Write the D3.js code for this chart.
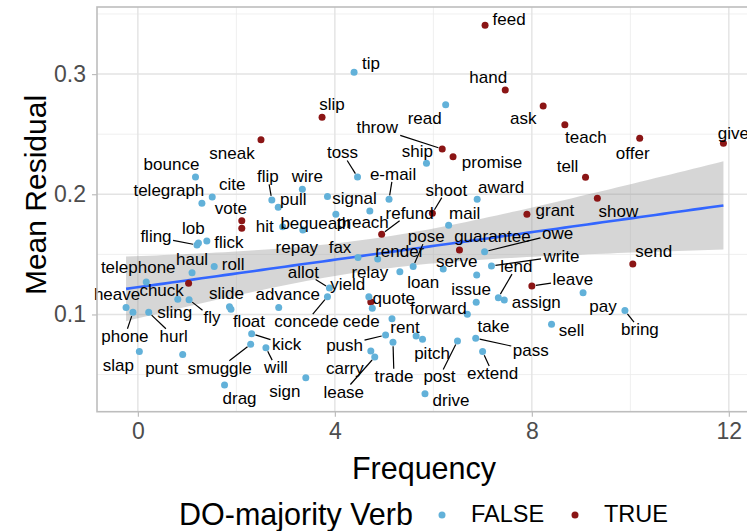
<!DOCTYPE html>
<html>
<head>
<meta charset="utf-8">
<script src="https://cdnjs.cloudflare.com/ajax/libs/d3/7.8.5/d3.min.js"></script>
<style>
  body { margin: 0; background: #fff; }
  text { font-family: "Liberation Sans", Arial, sans-serif; }
</style>
</head>
<body>
<div id="chart"></div>
<script>
const width = 747;
const height = 531;

// verbs, their frequency, mean residual and whether DO is the majority
const verbs = ["feed","hand","ask","slip","teach","offer","sneak","give","throw","promise",
  "tell","show","shoot","grant","vote","deliver","refund","guarantee","send","chuck","leave","quote",
  "tip","read","ship","toss","bounce","wire","cite","signal","e-mail","award",
  "flip","telegraph","pull","preach","bequeath","mail","hit","repay","flick","fling",
  "lob","owe","fax","render","write","pose","roll","loan","relay","haul",
  "serve","telephone","allot","pay","yield","concede","lend","sling","fly","assign",
  "issue","slide","float","heave","advance","cede","phone","hurl","forward","bring",
  "rent","sell","kick","push","pitch","take","pass","post","trade","smuggle",
  "will","carry","slap","extend","punt","lease","sign","drag","drive"];
const frequency = [7.05,7.46,8.23,3.74,8.67,10.19,2.50,11.89,6.18,6.40,
  9.09,9.33,5.98,7.90,2.11,2.11,4.95,6.53,10.05,1.03,8.00,4.73,
  4.39,6.25,5.86,4.46,1.17,3.34,1.51,3.85,5.10,6.89,
  2.72,1.30,2.85,4.71,4.02,6.31,2.94,3.35,1.40,1.20,
  1.23,7.04,4.47,4.87,7.18,5.59,1.55,6.20,5.32,1.10,
  6.88,0.17,3.89,9.04,4.69,3.85,7.32,0.81,1.04,7.44,
  6.87,1.86,1.89,-0.24,2.86,4.76,-0.10,0.22,6.69,9.89,
  5.16,8.40,2.31,5.03,5.65,5.78,6.86,6.49,5.18,2.29,
  2.60,4.73,0.03,7.00,0.91,4.81,3.41,1.76,5.83];
const meanResidual = [0.3406,0.2868,0.2735,0.2641,0.2579,0.2467,0.2454,0.2424,0.2377,0.2313,
  0.2141,0.1967,0.1843,0.1834,0.1780,0.1717,0.1668,0.1537,0.1420,0.1260,0.1237,0.1104,
  0.3015,0.2745,0.2258,0.2144,0.2144,0.2042,0.1978,0.1982,0.1958,0.1958,
  0.1953,0.1925,0.1892,0.1861,0.1834,0.1742,0.1730,0.1703,0.1611,0.1578,
  0.1595,0.1522,0.1473,0.1462,0.1403,0.1398,0.1398,0.1379,0.1356,0.1348,
  0.1329,0.1270,0.1220,0.1181,0.1148,0.1148,0.1140,0.1126,0.1123,0.1121,
  0.1102,0.1065,0.1043,0.1057,0.1057,0.1052,0.1018,0.1018,0.1002,0.1032,
  0.0965,0.0918,0.0840,0.0829,0.0821,0.0794,0.0802,0.0780,0.0769,0.0752,
  0.0724,0.0696,0.0691,0.0691,0.0666,0.0646,0.0473,0.0413,0.0341];
const doMajority = verbs.map((v, i) => i < 22);

const xTicks = [0, 4, 8, 12];
const yTicks = [0.1, 0.2, 0.3];
const legendLevels = ["FALSE", "TRUE"];

// where ggrepel ended up putting each label (pixel offset from its point, and whether a segment is drawn)
const labelNudge = {
  feed:[24,-6], hand:[-17,-12], ask:[-20,13], slip:[10,-13], teach:[21,13], offer:[-7,15],
  sneak:[-29,14], give:[10,-10], throw:[-65,-21,1], promise:[39,6], tell:[-18,-11], show:[21,13],
  shoot:[14,-23,1], grant:[28,-4], vote:[-11,-12], refund:[28,-21,1], guarantee:[33,-13],
  send:[21,-12], chuck:[-27,7], leave:[41,-6,1], quote:[23,-3],
  tip:[17,-9], read:[-21,14], ship:[-9,-12], toss:[-15,-24,1], bounce:[-24,-12], wire:[5,-13],
  cite:[20,-12], signal:[27,2], "e-mail":[4,-25,1], award:[24,-12], flip:[-4,-23,1],
  telegraph:[-33,-13], pull:[15,-8], preach:[-7,12], bequeath:[-20,9], mail:[16,-12], hit:[-18,0],
  repay:[-6,18], flick:[22,1], fling:[-41,-8,1], lob:[-5,-14], owe:[73,-18,1], fax:[-18,-10],
  render:[22,-7], write:[70,-10,1], pose:[13,-30,1], roll:[19,-2], loan:[-20,14], relay:[-30,1],
  haul:[0,-13], serve:[-20,-13], telephone:[-8,-15], allot:[-26,-16,1], pay:[20,14], yield:[-21,-12],
  concede:[-21,25,1], lend:[18,-31,1], sling:[-3,13], fly:[23,18,1], assign:[32,3], issue:[-5,-13],
  slide:[-3,-13], float:[18,12], heave:[-9,-13], advance:[9,-13], cede:[-11,13], phone:[-8,24,1],
  hurl:[25,24,1], forward:[-29,-6], bring:[15,19,1], rent:[13,9], sell:[20,6], kick:[35,11,1],
  push:[-41,10,1], pitch:[16,18], take:[71,-13], pass:[55,12,1], post:[-18,36,1], trade:[1,34,1],
  smuggle:[-31,24,1], will:[10,20,1], carry:[-26,17], slap:[-21,14], extend:[10,22,1], punt:[-21,14],
  lease:[-31,35,1], sign:[-21,14], drag:[15,13], drive:[26,7]
};

const colorFalse = "#62B1D9";
const colorTrue = "#8B1515";

const data = verbs.map((v, i) => ({verb: v, x: frequency[i], y: meanResidual[i], dom: doMajority[i]}));

const panel = {left: 97, top: 7, right: 751, bottom: 411.7};
const x = d3.scaleLinear().domain([-0.83, 12.45]).range([panel.left, panel.right]);
const y = d3.scaleLinear().domain([0.0191, 0.3558]).range([panel.bottom, panel.top]);

const svg = d3.select("#chart").append("svg")
  .attr("width", width).attr("height", height)
  .style("display", "block");

svg.append("defs").append("clipPath").attr("id", "clip")
  .append("rect").attr("x", panel.left).attr("y", panel.top)
  .attr("width", panel.right - panel.left).attr("height", panel.bottom - panel.top);

// grid
const grid = svg.append("g").attr("clip-path", "url(#clip)");
const xMinor = [2, 6, 10];
const yMinor = [0.05, 0.15, 0.25, 0.35];
grid.selectAll(".xminor").data(xMinor).join("line")
  .attr("x1", d => x(d)).attr("x2", d => x(d)).attr("y1", panel.top).attr("y2", panel.bottom)
  .attr("stroke", "#EBEBEB").attr("stroke-width", 0.8);
grid.selectAll(".yminor").data(yMinor).join("line")
  .attr("y1", d => y(d)).attr("y2", d => y(d)).attr("x1", panel.left).attr("x2", panel.right)
  .attr("stroke", "#EBEBEB").attr("stroke-width", 0.8);
grid.selectAll(".xmajor").data(xTicks).join("line")
  .attr("x1", d => x(d)).attr("x2", d => x(d)).attr("y1", panel.top).attr("y2", panel.bottom)
  .attr("stroke", "#E3E3E3").attr("stroke-width", 1.4);
grid.selectAll(".ymajor").data(yTicks).join("line")
  .attr("y1", d => y(d)).attr("y2", d => y(d)).attr("x1", panel.left).attr("x2", panel.right)
  .attr("stroke", "#E3E3E3").attr("stroke-width", 1.4);

// linear fit with 95% band
const n = data.length;
const xbar = d3.mean(data, d => d.x);
const ybar = d3.mean(data, d => d.y);
const sxx = d3.sum(data, d => (d.x - xbar) ** 2);
const sxy = d3.sum(data, d => (d.x - xbar) * (d.y - ybar));
const slope = sxy / sxx;
const intercept = ybar - slope * xbar;
const sse = d3.sum(data, d => (d.y - intercept - slope * d.x) ** 2);
const s = Math.sqrt(sse / (n - 2));
const tCrit = 1.986;
const [xmin, xmax] = d3.extent(data, d => d.x);
const fit = d3.range(80).map(i => {
  const xv = xmin + (xmax - xmin) * i / 79;
  const yv = intercept + slope * xv;
  const se = s * Math.sqrt(1 / n + (xv - xbar) ** 2 / sxx);
  return {x: xv, y: yv, lo: yv - tCrit * se, hi: yv + tCrit * se};
});

const plot = svg.append("g").attr("clip-path", "url(#clip)");
plot.append("path").datum(fit)
  .attr("d", d3.area().x(d => x(d.x)).y0(d => y(d.lo)).y1(d => y(d.hi)))
  .attr("fill", "#999").attr("fill-opacity", 0.4);
plot.append("path").datum(fit)
  .attr("d", d3.line().x(d => x(d.x)).y(d => y(d.y)))
  .attr("fill", "none").attr("stroke", "#3366FF").attr("stroke-width", 2.6);

// points
plot.selectAll("circle").data(data).join("circle")
  .attr("cx", d => x(d.x)).attr("cy", d => y(d.y)).attr("r", 3.5)
  .attr("fill", d => d.dom ? colorTrue : colorFalse);

// labels
const labelled = data.filter(d => labelNudge[d.verb]);
const segG = svg.append("g");
const labG = svg.append("g");
labelled.forEach(d => {
  const [dx, dy, seg] = labelNudge[d.verb];
  const px = x(d.x), py = y(d.y);
  const t = labG.append("text")
    .attr("x", px + dx).attr("y", py + dy)
    .attr("text-anchor", "middle").attr("dominant-baseline", "central")
    .attr("font-size", 17).attr("fill", "#000")
    .text(d.verb);
  if (seg) {
    const b = t.node().getBBox();
    const pad = 1.5;
    const bx0 = b.x - pad, bx1 = b.x + b.width + pad, by0 = b.y + 2, by1 = b.y + b.height - 2;
    const cx = px + dx, cy = py + dy;
    // clip the line point -> label centre at the label box
    const vx = cx - px, vy = cy - py;
    let tt = 1;
    if (vx !== 0) {
      const tx = vx > 0 ? (bx0 - px) / vx : (bx1 - px) / vx;
      const yAt = py + vy * tx;
      if (tx > 0 && tx < tt && yAt >= by0 && yAt <= by1) tt = tx;
    }
    if (vy !== 0) {
      const ty = vy > 0 ? (by0 - py) / vy : (by1 - py) / vy;
      const xAt = px + vx * ty;
      if (ty > 0 && ty < tt && xAt >= bx0 && xAt <= bx1) tt = ty;
    }
    const len = Math.hypot(vx, vy);
    const t0 = 4 / len;
    segG.append("line")
      .attr("x1", px + vx * t0).attr("y1", py + vy * t0)
      .attr("x2", px + vx * tt).attr("y2", py + vy * tt)
      .attr("stroke", "#000").attr("stroke-width", 1.2);
  }
});

// panel border
svg.append("rect")
  .attr("x", panel.left).attr("y", panel.top)
  .attr("width", panel.right - panel.left).attr("height", panel.bottom - panel.top)
  .attr("fill", "none").attr("stroke", "#BDBDBD").attr("stroke-width", 1.6);

// axes
const xAxis = svg.append("g")
  .attr("transform", `translate(0,${panel.bottom})`)
  .call(d3.axisBottom(x).tickValues(xTicks).tickSize(5).tickPadding(6));
const yAxis = svg.append("g")
  .attr("transform", `translate(${panel.left},0)`)
  .call(d3.axisLeft(y).tickValues(yTicks).tickFormat(d3.format(".1f")).tickSize(5).tickPadding(6));
[xAxis, yAxis].forEach(a => {
  a.select(".domain").remove();
  a.selectAll(".tick line").attr("stroke", "#BDBDBD").attr("stroke-width", 1.2);
  a.selectAll(".tick text").attr("fill", "#4D4D4D").attr("font-size", 23)
    .attr("font-family", "Liberation Sans, Arial, sans-serif");
});

svg.append("text")
  .attr("x", (panel.left + panel.right) / 2).attr("y", 479)
  .attr("text-anchor", "middle").attr("font-size", 30.5).attr("fill", "#000")
  .text("Frequency");
svg.append("text")
  .attr("transform", "translate(46,195) rotate(-90)")
  .attr("text-anchor", "middle").attr("font-size", 30).attr("fill", "#000")
  .text("Mean Residual");

// legend
const legend = svg.append("g").attr("transform", "translate(0,514)");
legend.append("text").attr("x", 179).attr("y", 0)
  .attr("dominant-baseline", "central").attr("font-size", 30.5).text("DO-majority Verb");
const legendX = d3.scalePoint().domain(legendLevels).range([442, 575]);
const item = legend.selectAll(".item").data(legendLevels).join("g")
  .attr("transform", d => `translate(${legendX(d)},0)`);
item.append("circle").attr("r", 3.5).attr("cy", 1)
  .attr("fill", d => d === "TRUE" ? colorTrue : colorFalse);
item.append("text").attr("x", 29).attr("y", 0)
  .attr("dominant-baseline", "central").attr("font-size", 23.5).text(d => d);
</script>
</body>
</html>
